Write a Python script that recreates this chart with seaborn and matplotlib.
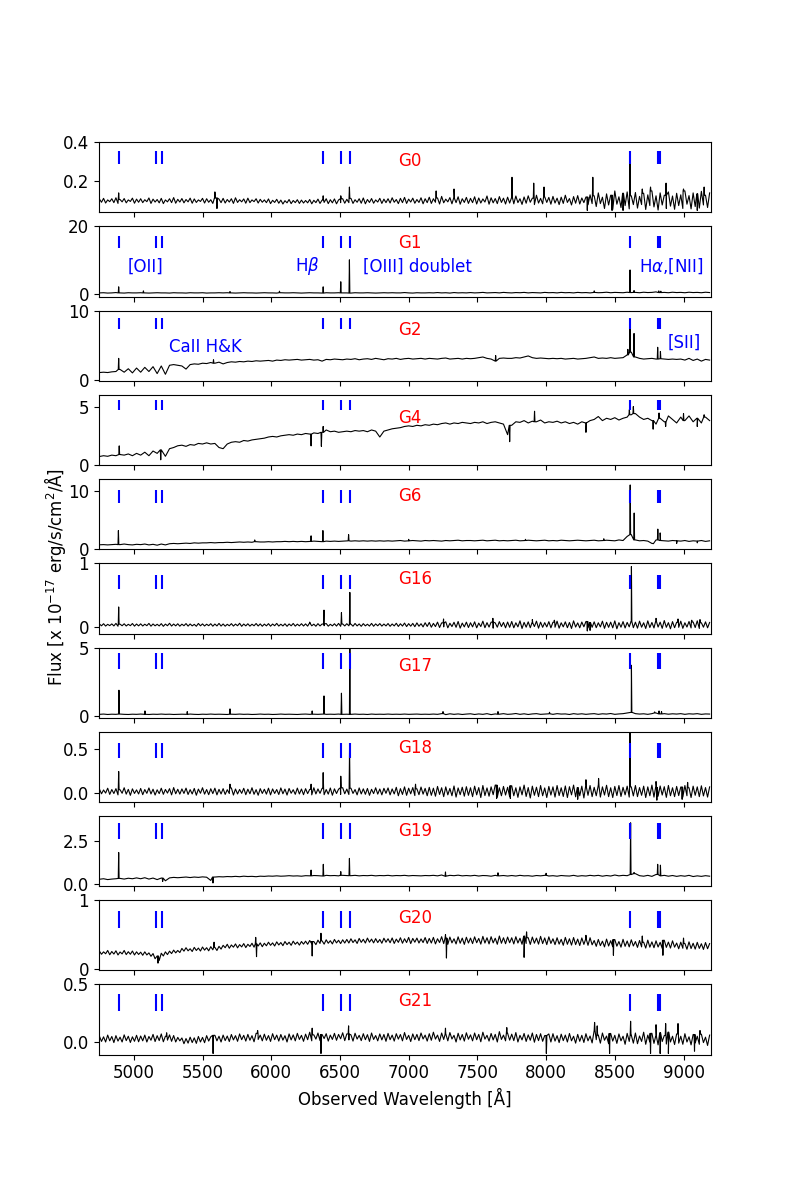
import numpy as np
import pandas as pd
import seaborn as sns
import matplotlib.pyplot as plt

plt.rcParams['font.size'] = 12

# sampled spectra: flux on a regular wavelength grid (4750 + 30*i Angstrom);
# the noisy ones also get the low side of the noise half way between (4765 + 30*i)
WAVE_START = 4750
WAVE_STEP = 30

GALAXIES = ['G0', 'G1', 'G2', 'G4', 'G6', 'G16', 'G17', 'G18', 'G19', 'G20', 'G21']

FLUX_G0 = [0.108, 0.112, 0.104, 0.110, 0.115, 0.106, 0.111, 0.104, 0.113, 0.108,
           0.110, 0.105, 0.114, 0.108, 0.106, 0.112, 0.104, 0.110, 0.116, 0.107,
           0.111, 0.106, 0.113, 0.109, 0.104, 0.112, 0.110, 0.105, 0.114, 0.108,
           0.112, 0.106, 0.110, 0.115, 0.105, 0.109, 0.113, 0.104, 0.110, 0.107,
           0.104, 0.109, 0.102, 0.107, 0.103, 0.100, 0.106, 0.101, 0.105, 0.103,
           0.101, 0.106, 0.102, 0.108, 0.103, 0.110, 0.105, 0.109, 0.104, 0.110,
           0.107, 0.112, 0.105, 0.110, 0.114, 0.106, 0.111, 0.104, 0.112, 0.108,
           0.110, 0.115, 0.106, 0.112, 0.117, 0.108, 0.113, 0.106, 0.115, 0.110,
           0.118, 0.110, 0.114, 0.122, 0.108, 0.116, 0.112, 0.120, 0.110, 0.117,
           0.112, 0.120, 0.114, 0.109, 0.124, 0.115, 0.111, 0.121, 0.113, 0.118,
           0.116, 0.124, 0.110, 0.119, 0.125, 0.113, 0.128, 0.112, 0.120, 0.117,
           0.122, 0.113, 0.118, 0.128, 0.111, 0.121, 0.126, 0.114, 0.119, 0.130,
           0.125, 0.140, 0.118, 0.135, 0.128, 0.150, 0.120, 0.138, 0.145, 0.125,
           0.142, 0.122, 0.138, 0.130, 0.150, 0.125, 0.140, 0.128, 0.145, 0.124,
           0.138, 0.130, 0.150, 0.126, 0.140, 0.135, 0.148, 0.128, 0.140]
MID_G0 = [0.092, 0.088, 0.095, 0.090, 0.086, 0.094, 0.089, 0.096, 0.087, 0.092,
          0.090, 0.095, 0.086, 0.093, 0.089, 0.085, 0.094, 0.090, 0.087, 0.093,
          0.089, 0.094, 0.087, 0.091, 0.096, 0.088, 0.092, 0.086, 0.093, 0.090,
          0.088, 0.093, 0.086, 0.091, 0.094, 0.087, 0.090, 0.095, 0.088, 0.092,
          0.090, 0.085, 0.091, 0.087, 0.083, 0.089, 0.085, 0.090, 0.086, 0.088,
          0.089, 0.084, 0.090, 0.086, 0.091, 0.085, 0.089, 0.084, 0.090, 0.087,
          0.090, 0.086, 0.092, 0.087, 0.084, 0.091, 0.087, 0.093, 0.086, 0.090,
          0.088, 0.092, 0.085, 0.090, 0.086, 0.093, 0.087, 0.091, 0.084, 0.090,
          0.086, 0.092, 0.083, 0.089, 0.094, 0.084, 0.090, 0.082, 0.091, 0.086,
          0.090, 0.083, 0.088, 0.093, 0.082, 0.089, 0.085, 0.091, 0.083, 0.088,
          0.084, 0.090, 0.081, 0.087, 0.092, 0.080, 0.088, 0.084, 0.091, 0.082,
          0.088, 0.080, 0.086, 0.091, 0.078, 0.087, 0.083, 0.090, 0.079, 0.085,
          0.070, 0.085, 0.060, 0.078, 0.055, 0.082, 0.065, 0.075, 0.058, 0.080,
          0.062, 0.080, 0.055, 0.075, 0.068, 0.052, 0.078, 0.060, 0.072, 0.056,
          0.075, 0.060, 0.082, 0.058, 0.070, 0.062, 0.078, 0.065]
FLUX_G1 = [0.3, 0.35, 0.25, 0.3, 0.4, 0.3, 0.25, 0.35, 0.3, 0.3,
           0.35, 0.3, 0.25, 0.3, 0.35, 0.3, 0.3, 0.25, 0.35, 0.3,
           0.3, 0.25, 0.35, 0.3, 0.3, 0.35, 0.25, 0.3, 0.3, 0.35,
           0.3, 0.35, 0.3, 0.25, 0.3, 0.35, 0.3, 0.3, 0.25, 0.3,
           0.35, 0.3, 0.3, 0.25, 0.35, 0.3, 0.3, 0.35, 0.3, 0.25,
           0.3, 0.35, 0.3, 0.3, 0.25, 0.35, 0.3, 0.3, 0.35, 0.3,
           0.3, 0.25, 0.35, 0.3, 0.3, 0.35, 0.3, 0.25, 0.3, 0.35,
           0.3, 0.35, 0.3, 0.3, 0.4, 0.3, 0.25, 0.35, 0.3, 0.3,
           0.35, 0.3, 0.4, 0.3, 0.35, 0.25, 0.4, 0.3, 0.35, 0.3,
           0.4, 0.3, 0.35, 0.45, 0.3, 0.35, 0.4, 0.3, 0.45, 0.35,
           0.3, 0.4, 0.35, 0.45, 0.3, 0.4, 0.35, 0.3, 0.45, 0.35,
           0.4, 0.3, 0.45, 0.35, 0.4, 0.3, 0.45, 0.35, 0.4, 0.3,
           0.45, 0.35, 0.4, 0.5, 0.35, 0.45, 0.4, 0.35, 0.5, 0.4,
           0.45, 0.35, 0.5, 0.4, 0.45, 0.6, 0.4, 0.45, 0.35, 0.5,
           0.4, 0.45, 0.35, 0.5, 0.4, 0.45, 0.35, 0.5, 0.4]
FLUX_G2 = [1.05, 1.1, 1.05, 1.15, 1.2, 1.5, 1.1, 1.6, 1.0, 1.7,
           1.1, 1.8, 1.2, 1.9, 0.9, 2.0, 0.8, 2.1, 2.2, 2.1,
           2.0, 1.55, 2.2, 2.3, 2.25, 2.4, 2.35, 2.5, 2.4, 2.55,
           2.3, 2.5, 2.6, 2.55, 2.65, 2.6, 2.7, 2.65, 2.75, 2.7,
           2.75, 2.8, 2.7, 2.85, 2.8, 2.9, 2.85, 2.9, 2.95, 2.85,
           2.9, 2.95, 2.85, 2.9, 2.7, 2.95, 2.9, 3.0, 2.95, 2.9,
           3.0, 2.95, 3.05, 2.9, 3.0, 3.05, 2.95, 3.1, 3.0, 2.9,
           3.05, 3.0, 3.1, 2.95, 3.05, 3.1, 3.0, 3.05, 3.1, 3.0,
           3.1, 3.05, 3.0, 3.1, 3.15, 3.0, 3.05, 3.1, 3.0, 3.1,
           3.05, 3.1, 3.2, 3.3, 3.1, 3.0, 2.7, 3.1, 3.15, 3.1,
           3.1, 3.2, 3.15, 3.3, 3.45, 3.2, 3.1, 3.15, 3.1, 3.05,
           3.1, 3.05, 3.1, 3.0, 3.05, 3.1, 3.0, 3.05, 3.1, 3.2,
           3.3, 3.1, 3.15, 3.1, 3.2, 3.1, 3.15, 3.2, 3.6, 4.0,
           3.3, 3.1, 3.0, 3.05, 3.1, 3.0, 3.05, 3.0, 2.95, 3.0,
           2.95, 3.0, 2.85, 3.1, 2.8, 3.0, 2.7, 2.95, 2.85]
FLUX_G4 = [0.73, 0.8, 0.75, 0.85, 0.8, 0.9, 0.85, 0.95, 0.8, 1.0,
           0.85, 1.1, 0.8, 1.2, 1.0, 1.3, 0.75, 1.4, 1.5, 1.65,
           1.7, 1.6, 1.75, 1.7, 1.85, 1.8, 1.9, 1.8, 1.85, 1.5,
           1.4, 1.8, 1.95, 2.0, 1.95, 2.1, 2.05, 2.15, 2.2, 2.25,
           2.3, 2.4, 2.45, 2.4, 2.5, 2.55, 2.6, 2.55, 2.65, 2.6,
           2.7, 2.65, 2.75, 2.7, 2.8, 3.0, 2.85, 2.9, 2.8, 2.85,
           2.9, 2.85, 2.95, 2.9, 2.95, 2.85, 3.0, 2.9, 2.4, 2.9,
           3.0, 3.1, 3.15, 3.2, 3.3, 3.35, 3.3, 3.4, 3.35, 3.45,
           3.4, 3.5, 3.45, 3.55, 3.6, 3.5, 3.6, 3.55, 3.65, 3.6,
           3.55, 3.65, 3.6, 3.7, 3.55, 3.65, 3.7, 3.6, 3.5, 2.6,
           3.4, 3.7, 3.65, 3.8, 3.6, 3.75, 3.7, 3.85, 3.6, 3.7,
           3.65, 3.75, 3.6, 3.7, 3.55, 3.65, 3.5, 3.7, 3.6, 3.8,
           3.9, 4.15, 3.8, 4.0, 3.9, 4.05, 3.85, 4.0, 4.1, 4.3,
           4.4, 4.1, 3.9, 4.0, 3.8, 3.5, 4.0, 3.7, 4.2, 3.9,
           3.6, 4.1, 3.8, 4.2, 3.7, 4.0, 3.6, 4.1, 3.8]
FLUX_G6 = [0.77, 0.8, 0.75, 0.8, 0.85, 0.8, 0.9, 0.8, 0.75, 0.85,
           0.8, 0.9, 0.75, 0.85, 0.7, 0.9, 0.75, 0.95, 1.0, 0.95,
           1.0, 1.05, 1.0, 1.1, 1.05, 1.1, 1.1, 1.15, 1.1, 1.15,
           1.15, 1.2, 1.15, 1.2, 1.25, 1.2, 1.25, 1.2, 1.3, 1.25,
           1.25, 1.3, 1.25, 1.3, 1.3, 1.35, 1.3, 1.35, 1.3, 1.35,
           1.3, 1.35, 1.4, 1.35, 1.3, 1.4, 1.35, 1.4, 1.35, 1.4,
           1.45, 1.4, 1.45, 1.4, 1.45, 1.4, 1.45, 1.4, 1.45, 1.4,
           1.45, 1.4, 1.45, 1.5, 1.4, 1.45, 1.5, 1.45, 1.4, 1.5,
           1.45, 1.5, 1.45, 1.4, 1.5, 1.45, 1.5, 1.55, 1.45, 1.5,
           1.5, 1.45, 1.5, 1.55, 1.45, 1.5, 1.55, 1.45, 1.5, 1.45,
           1.5, 1.55, 1.45, 1.5, 1.55, 1.5, 1.45, 1.5, 1.55, 1.45,
           1.5, 1.45, 1.55, 1.5, 1.45, 1.5, 1.55, 1.5, 1.45, 1.5,
           1.55, 1.45, 1.5, 1.55, 1.5, 1.45, 1.6, 1.5, 2.2, 2.5,
           1.6, 1.45, 1.5, 1.4, 1.0, 1.6, 1.5, 1.45, 1.4, 1.5,
           1.45, 1.4, 1.5, 1.35, 1.45, 1.4, 1.5, 1.35, 1.45]
FLUX_G16 = [0.04, 0.045, 0.035, 0.042, 0.05, 0.038, 0.044, 0.036, 0.048, 0.04,
            0.043, 0.037, 0.05, 0.041, 0.036, 0.046, 0.039, 0.052, 0.04, 0.044,
            0.038, 0.047, 0.041, 0.035, 0.049, 0.042, 0.037, 0.045, 0.04, 0.05,
            0.041, 0.036, 0.046, 0.039, 0.052, 0.04, 0.044, 0.037, 0.048, 0.042,
            0.039, 0.046, 0.04, 0.05, 0.037, 0.044, 0.041, 0.049, 0.038, 0.045,
            0.042, 0.05, 0.038, 0.046, 0.04, 0.048, 0.036, 0.044, 0.05, 0.041,
            0.045, 0.038, 0.049, 0.041, 0.046, 0.037, 0.05, 0.042, 0.047, 0.04,
            0.048, 0.041, 0.052, 0.044, 0.055, 0.046, 0.05, 0.058, 0.045, 0.06,
            0.065, 0.05, 0.07, 0.058, 0.075, 0.052, 0.068, 0.08, 0.055, 0.07,
            0.06, 0.075, 0.055, 0.085, 0.062, 0.07, 0.058, 0.078, 0.065, 0.072,
            0.08, 0.06, 0.09, 0.066, 0.075, 0.058, 0.085, 0.07, 0.062, 0.078,
            0.068, 0.085, 0.06, 0.075, 0.065, 0.09, 0.058, 0.072, 0.08, 0.064,
            0.075, 0.06, 0.085, 0.068, 0.07, 0.09, 0.062, 0.078, 0.066, 0.08,
            0.07, 0.085, 0.06, 0.09, 0.065, 0.08, 0.07, 0.095, 0.062, 0.078,
            0.068, 0.085, 0.06, 0.08, 0.072, 0.09, 0.06, 0.075, 0.065]
MID_G16 = [0.012, 0.008, 0.015, 0.01, 0.005, 0.013, 0.009, 0.014, 0.007, 0.011,
           0.009, 0.014, 0.006, 0.012, 0.01, 0.004, 0.013, 0.008, 0.011, 0.006,
           0.013, 0.007, 0.011, 0.005, 0.012, 0.009, 0.014, 0.006, 0.01, 0.008,
           0.006, 0.012, 0.008, 0.013, 0.004, 0.011, 0.007, 0.012, 0.009, 0.005,
           0.011, 0.006, 0.013, 0.008, 0.01, 0.004, 0.012, 0.007, 0.011, 0.009,
           0.007, 0.012, 0.005, 0.01, 0.013, 0.006, 0.011, 0.008, 0.004, 0.01,
           0.012, 0.006, 0.01, 0.004, 0.011, 0.008, 0.005, 0.012, 0.007, 0.01,
           0.004, 0.01, 0.002, 0.008, 0.0, 0.006, -0.002, 0.005, -0.005, 0.002,
           -0.01, 0.0, -0.015, -0.005, -0.02, 0.0, -0.012, -0.025, -0.005, -0.015,
           -0.005, -0.02, 0.0, -0.018, -0.008, -0.025, -0.01, 0.0, -0.02, -0.012,
           -0.02, -0.005, -0.03, -0.01, -0.018, 0.0, -0.025, -0.012, -0.006, -0.02,
           -0.01, -0.025, -0.005, -0.018, -0.03, -0.008, -0.02, -0.004, -0.022, -0.012,
           -0.018, -0.006, -0.028, -0.012, -0.02, -0.035, -0.01, -0.022, -0.005, -0.018,
           -0.025, -0.01, -0.03, -0.015, -0.022, -0.008, -0.028, -0.012, -0.035, -0.018,
           -0.012, -0.028, -0.008, -0.022, -0.015, -0.03, -0.01, -0.02]
FLUX_G17 = [0.1, 0.12, 0.09, 0.11, 0.1, 0.12, 0.1, 0.09, 0.11, 0.1,
            0.12, 0.1, 0.09, 0.11, 0.1, 0.12, 0.1, 0.11, 0.09, 0.1,
            0.11, 0.1, 0.12, 0.1, 0.09, 0.11, 0.1, 0.12, 0.1, 0.11,
            0.1, 0.09, 0.11, 0.1, 0.12, 0.1, 0.11, 0.09, 0.1, 0.12,
            0.1, 0.11, 0.09, 0.1, 0.12, 0.1, 0.11, 0.1, 0.09, 0.11,
            0.12, 0.1, 0.11, 0.1, 0.12, 0.1, 0.11, 0.1, 0.12, 0.1,
            0.11, 0.1, 0.12, 0.1, 0.11, 0.09, 0.12, 0.1, 0.11, 0.1,
            0.12, 0.1, 0.11, 0.1, 0.12, 0.1, 0.11, 0.12, 0.1, 0.11,
            0.1, 0.12, 0.1, 0.15, 0.08, 0.14, 0.1, 0.13, 0.09, 0.12,
            0.14, 0.09, 0.13, 0.1, 0.15, 0.08, 0.13, 0.11, 0.15, 0.1,
            0.12, 0.16, 0.1, 0.14, 0.09, 0.13, 0.15, 0.1, 0.12, 0.14,
            0.1, 0.15, 0.12, 0.13, 0.09, 0.15, 0.11, 0.14, 0.1, 0.13,
            0.15, 0.1, 0.14, 0.12, 0.16, 0.1, 0.13, 0.15, 0.2, 0.25,
            0.15, 0.12, 0.14, 0.1, 0.15, 0.2, 0.13, 0.15, 0.11, 0.14,
            0.12, 0.15, 0.1, 0.14, 0.12, 0.15, 0.1, 0.13, 0.12]
FLUX_G18 = [0.045, 0.035, 0.055, 0.04, 0.05, 0.038, 0.06, 0.042, 0.048, 0.036,
            0.052, 0.04, 0.058, 0.044, 0.037, 0.055, 0.041, 0.05, 0.062, 0.043,
            0.047, 0.056, 0.039, 0.052, 0.045, 0.06, 0.04, 0.049, 0.055, 0.042,
            0.05, 0.038, 0.058, 0.046, 0.041, 0.054, 0.044, 0.06, 0.039, 0.05,
            0.043, 0.055, 0.047, 0.04, 0.058, 0.045, 0.052, 0.038, 0.056, 0.046,
            0.05, 0.042, 0.06, 0.047, 0.053, 0.04, 0.057, 0.048, 0.044, 0.06,
            0.045, 0.055, 0.04, 0.058, 0.048, 0.052, 0.043, 0.06, 0.046, 0.054,
            0.058, 0.047, 0.065, 0.05, 0.07, 0.055, 0.062, 0.048, 0.068, 0.053,
            0.065, 0.055, 0.075, 0.06, 0.07, 0.052, 0.08, 0.058, 0.066, 0.072,
            0.06, 0.078, 0.062, 0.085, 0.058, 0.07, 0.09, 0.06, 0.075, 0.065,
            0.082, 0.06, 0.07, 0.09, 0.062, 0.078, 0.066, 0.085, 0.058, 0.075,
            0.07, 0.085, 0.06, 0.08, 0.072, 0.09, 0.062, 0.078, 0.068, 0.085,
            0.065, 0.08, 0.07, 0.088, 0.06, 0.075, 0.085, 0.065, 0.078, 0.07,
            0.085, 0.062, 0.078, 0.07, 0.09, 0.064, 0.08, 0.072, 0.086, 0.06,
            0.075, 0.068, 0.085, 0.06, 0.078, 0.07, 0.082, 0.062, 0.07]
MID_G18 = [-0.008, 0.0, -0.015, -0.005, -0.02, -0.002, -0.012, -0.025, -0.004, -0.01,
           -0.018, -0.003, -0.01, -0.022, -0.006, -0.014, 0.0, -0.02, -0.008, -0.012,
           -0.004, -0.016, -0.01, -0.024, -0.002, -0.012, -0.018, -0.006, -0.02, -0.01,
           -0.015, -0.005, -0.022, -0.01, -0.003, -0.018, -0.008, -0.014, -0.024, -0.004,
           -0.012, -0.02, -0.004, -0.016, -0.008, -0.022, -0.002, -0.014, -0.01, -0.018,
           -0.006, -0.02, -0.01, -0.003, -0.018, -0.012, -0.024, -0.005, -0.015, -0.008,
           -0.016, -0.004, -0.02, -0.01, -0.014, -0.025, -0.006, -0.012, -0.02, -0.003,
           -0.02, -0.01, -0.03, -0.015, -0.025, -0.008, -0.028, -0.018, -0.012, -0.03,
           -0.025, -0.035, -0.015, -0.04, -0.02, -0.03, -0.045, -0.018, -0.035, -0.025,
           -0.04, -0.02, -0.05, -0.028, -0.035, -0.018, -0.045, -0.03, -0.022, -0.04,
           -0.03, -0.048, -0.02, -0.038, -0.055, -0.025, -0.04, -0.03, -0.05, -0.022,
           -0.045, -0.028, -0.038, -0.05, -0.02, -0.042, -0.03, -0.055, -0.025, -0.04,
           -0.03, -0.045, -0.022, -0.04, -0.05, -0.028, -0.038, -0.02, -0.045, -0.032,
           -0.04, -0.025, -0.05, -0.03, -0.045, -0.035, -0.022, -0.048, -0.03, -0.04,
           -0.028, -0.045, -0.03, -0.05, -0.025, -0.04, -0.032, -0.045]
FLUX_G19 = [0.27, 0.3, 0.25, 0.28, 0.3, 0.32, 0.28, 0.33, 0.3, 0.35,
            0.3, 0.36, 0.28, 0.34, 0.25, 0.34, 0.18, 0.35, 0.38, 0.36,
            0.38, 0.4, 0.37, 0.4, 0.38, 0.41, 0.39, 0.2, 0.4, 0.42,
            0.41, 0.43, 0.42, 0.44, 0.42, 0.45, 0.43, 0.44, 0.42, 0.45,
            0.44, 0.46, 0.45, 0.47, 0.45, 0.46, 0.48, 0.46, 0.47, 0.45,
            0.48, 0.47, 0.49, 0.48, 0.46, 0.5, 0.48, 0.49, 0.47, 0.5,
            0.49, 0.48, 0.5, 0.47, 0.49, 0.48, 0.5, 0.47, 0.49, 0.48,
            0.5, 0.47, 0.49, 0.48, 0.5, 0.47, 0.49, 0.48, 0.47, 0.49,
            0.48, 0.5, 0.47, 0.52, 0.45, 0.5, 0.48, 0.51, 0.47, 0.49,
            0.47, 0.5, 0.46, 0.49, 0.48, 0.45, 0.5, 0.47, 0.49, 0.46,
            0.49, 0.46, 0.5, 0.47, 0.48, 0.45, 0.49, 0.47, 0.5, 0.46,
            0.48, 0.45, 0.49, 0.47, 0.46, 0.5, 0.45, 0.48, 0.46, 0.5,
            0.47, 0.5, 0.45, 0.49, 0.46, 0.52, 0.47, 0.5, 0.48, 0.55,
            0.6, 0.48, 0.45, 0.5, 0.44, 0.55, 0.47, 0.5, 0.45, 0.49,
            0.44, 0.48, 0.45, 0.5, 0.43, 0.47, 0.44, 0.48, 0.45]
FLUX_G20 = [0.26, 0.25, 0.27, 0.255, 0.265, 0.248, 0.27, 0.252, 0.262, 0.25,
            0.245, 0.25, 0.235, 0.225, 0.19, 0.23, 0.25, 0.26, 0.275, 0.27,
            0.3, 0.31, 0.295, 0.315, 0.305, 0.32, 0.31, 0.325, 0.315, 0.33,
            0.345, 0.36, 0.35, 0.365, 0.355, 0.37, 0.36, 0.375, 0.365, 0.38,
            0.375, 0.39, 0.38, 0.395, 0.385, 0.4, 0.39, 0.405, 0.392, 0.4,
            0.405, 0.415, 0.4, 0.42, 0.41, 0.425, 0.412, 0.43, 0.418, 0.425,
            0.43, 0.44, 0.425, 0.445, 0.432, 0.45, 0.435, 0.442, 0.43, 0.448,
            0.44, 0.452, 0.435, 0.455, 0.44, 0.46, 0.445, 0.45, 0.438, 0.458,
            0.445, 0.46, 0.44, 0.47, 0.45, 0.465, 0.44, 0.468, 0.45, 0.462,
            0.45, 0.468, 0.445, 0.475, 0.455, 0.47, 0.448, 0.48, 0.455, 0.465,
            0.455, 0.47, 0.448, 0.478, 0.455, 0.465, 0.45, 0.475, 0.452, 0.468,
            0.44, 0.455, 0.432, 0.46, 0.44, 0.458, 0.435, 0.452, 0.43, 0.455,
            0.415, 0.43, 0.405, 0.435, 0.412, 0.428, 0.4, 0.432, 0.408, 0.425,
            0.4, 0.415, 0.39, 0.42, 0.395, 0.41, 0.388, 0.418, 0.392, 0.41,
            0.378, 0.39, 0.372, 0.395, 0.375, 0.388, 0.368, 0.385, 0.37]
MID_G20 = [0.215, 0.222, 0.208, 0.218, 0.205, 0.22, 0.21, 0.215, 0.205, 0.212,
           0.2, 0.205, 0.185, 0.15, 0.125, 0.19, 0.21, 0.225, 0.235, 0.24,
           0.26, 0.265, 0.255, 0.27, 0.262, 0.275, 0.265, 0.28, 0.27, 0.29,
           0.31, 0.302, 0.318, 0.308, 0.322, 0.312, 0.328, 0.318, 0.335, 0.325,
           0.338, 0.345, 0.335, 0.35, 0.34, 0.355, 0.345, 0.36, 0.348, 0.362,
           0.36, 0.368, 0.355, 0.372, 0.362, 0.375, 0.365, 0.38, 0.37, 0.378,
           0.378, 0.385, 0.372, 0.388, 0.378, 0.39, 0.38, 0.385, 0.375, 0.39,
           0.382, 0.372, 0.388, 0.375, 0.385, 0.37, 0.39, 0.378, 0.385, 0.372,
           0.378, 0.365, 0.385, 0.37, 0.36, 0.38, 0.365, 0.375, 0.358, 0.378,
           0.37, 0.382, 0.362, 0.378, 0.365, 0.38, 0.36, 0.375, 0.368, 0.382,
           0.365, 0.378, 0.36, 0.372, 0.358, 0.375, 0.362, 0.37, 0.355, 0.372,
           0.355, 0.362, 0.345, 0.36, 0.348, 0.355, 0.342, 0.358, 0.345, 0.352,
           0.33, 0.34, 0.322, 0.335, 0.325, 0.332, 0.318, 0.33, 0.322, 0.335,
           0.315, 0.322, 0.305, 0.318, 0.31, 0.32, 0.3, 0.315, 0.305, 0.318,
           0.295, 0.302, 0.288, 0.298, 0.29, 0.3, 0.285, 0.295]
FLUX_G21 = [0.05, 0.045, 0.06, 0.048, 0.055, 0.042, 0.062, 0.05, 0.045, 0.058,
            0.052, 0.06, 0.048, 0.066, 0.055, 0.07, 0.05, 0.062, 0.056, 0.04,
            0.035, 0.03, 0.042, 0.036, 0.048, 0.04, 0.055, 0.045, 0.058, 0.05,
            0.06, 0.052, 0.065, 0.055, 0.07, 0.058, 0.066, 0.055, 0.075, 0.06,
            0.068, 0.056, 0.072, 0.06, 0.065, 0.055, 0.07, 0.062, 0.075, 0.058,
            0.068, 0.085, 0.062, 0.078, 0.065, 0.072, 0.06, 0.075, 0.066, 0.08,
            0.07, 0.062, 0.076, 0.058, 0.072, 0.064, 0.078, 0.056, 0.07, 0.065,
            0.075, 0.06, 0.072, 0.065, 0.082, 0.058, 0.07, 0.066, 0.078, 0.06,
            0.072, 0.085, 0.06, 0.078, 0.066, 0.082, 0.058, 0.076, 0.065, 0.08,
            0.062, 0.078, 0.066, 0.085, 0.058, 0.074, 0.066, 0.09, 0.06, 0.076,
            0.068, 0.082, 0.058, 0.074, 0.062, 0.078, 0.065, 0.072, 0.056, 0.07,
            0.072, 0.055, 0.068, 0.06, 0.074, 0.05, 0.066, 0.058, 0.072, 0.052,
            0.1, 0.06, 0.078, 0.052, 0.074, 0.058, 0.07, 0.05, 0.075, 0.06,
            0.078, 0.052, 0.085, 0.06, 0.075, 0.048, 0.08, 0.056, 0.085, 0.05,
            0.07, 0.05, 0.072, 0.045, 0.065, 0.05, 0.068, 0.042, 0.06]
MID_G21 = [0.005, 0.0, 0.01, -0.005, 0.008, 0.0, 0.012, -0.004, 0.006, 0.002,
           0.01, 0.0, 0.015, 0.004, 0.012, 0.002, 0.016, 0.006, 0.0, 0.01,
           -0.015, -0.01, -0.005, -0.012, 0.0, -0.006, 0.008, -0.002, 0.01, 0.0,
           0.012, 0.004, 0.018, 0.006, 0.02, 0.008, 0.015, 0.002, 0.022, 0.01,
           0.015, 0.005, 0.02, 0.008, 0.016, 0.0, 0.018, 0.01, 0.022, 0.006,
           0.02, 0.01, 0.025, 0.012, 0.03, 0.008, 0.022, 0.015, 0.028, 0.012,
           0.018, 0.008, 0.025, 0.012, 0.02, 0.005, 0.022, 0.01, 0.018, 0.006,
           0.02, 0.008, 0.025, 0.01, 0.022, 0.004, 0.02, 0.012, 0.026, 0.008,
           0.015, 0.025, 0.005, 0.022, 0.01, 0.026, 0.0, 0.018, 0.008, 0.024,
           0.01, 0.02, 0.002, 0.025, 0.008, 0.018, 0.0, 0.022, 0.01, 0.016,
           0.012, 0.0, 0.018, 0.005, 0.015, -0.002, 0.012, 0.006, 0.016, 0.0,
           0.008, -0.005, 0.012, 0.0, 0.01, -0.01, 0.006, -0.004, 0.01, -0.008,
           0.02, -0.01, 0.015, -0.015, 0.008, -0.012, 0.01, -0.02, 0.005, -0.01,
           -0.015, 0.005, -0.02, 0.0, -0.012, -0.025, 0.004, -0.018, 0.0, -0.022,
           -0.01, -0.02, 0.0, -0.025, -0.008, -0.02, -0.005, -0.03]

# narrow features (emission lines, sky residuals): (wavelength, flux at peak)
LINES_G0 = [(4890, 0.14), (5590, 0.145), (5605, 0.06), (6378, 0.125), (6506, 0.125),
            (6569, 0.17), (7200, 0.15), (7330, 0.16), (7752, 0.22), (7910, 0.19),
            (7985, 0.17), (8300, 0.05), (8340, 0.22), (8480, 0.05), (8560, 0.05),
            (8611, 0.30), (8700, 0.16), (8760, 0.17), (8873, 0.19), (9000, 0.16),
            (9100, 0.05), (9150, 0.17)]
LINES_G1 = [(4890, 2.1), (5070, 0.9), (5700, 0.7), (6060, 0.8), (6378, 2.1),
            (6506, 3.6), (6569, 10.1), (8350, 0.9), (8611, 7.1), (8640, 1.0),
            (8820, 0.9), (8835, 0.8)]
LINES_G2 = [(4890, 3.1), (5580, 2.9), (7633, 3.5), (8595, 4.4), (8611, 7.8),
            (8640, 6.7), (8812, 4.7), (8832, 4.1)]
LINES_G4 = [(4894, 1.64), (5196, 0.45), (6290, 1.64), (6365, 1.6), (6378, 3.3),
            (7735, 2.0), (7916, 4.6), (8290, 2.8), (8606, 4.73), (8635, 5.0),
            (8779, 3.07), (8822, 4.45), (8870, 3.3), (9000, 4.4), (9100, 3.3),
            (9150, 4.3)]
LINES_G6 = [(4888, 3.2), (5880, 1.6), (6290, 2.3), (6376, 3.2), (6563, 2.5),
            (7000, 1.7), (7850, 1.7), (8420, 1.8), (8612, 11.0), (8641, 6.2),
            (8779, 0.95), (8813, 3.45), (8830, 2.8), (8950, 1.0), (9100, 1.1)]
LINES_G16 = [(4890, 0.31), (6280, 0.07), (6384, 0.26), (6511, 0.22), (6572, 0.54),
             (7254, 0.12), (7613, 0.13), (7900, 0.11), (8060, 0.1), (8300, -0.07),
             (8320, -0.06), (8621, 0.95), (8800, 0.13), (8960, 0.12), (9060, 0.1),
             (9120, 0.11)]
LINES_G17 = [(4892, 1.87), (5081, 0.35), (5389, 0.3), (5700, 0.5), (6298, 0.35),
             (6384, 1.45), (6511, 1.65), (6572, 5.3), (7250, 0.3), (7650, 0.3),
             (8025, 0.25), (8621, 3.7), (8790, 0.28), (8822, 0.35), (8840, 0.3)]
LINES_G18 = [(4890, 0.243), (5700, 0.1), (6290, 0.1), (6378, 0.23), (6506, 0.19),
             (6570, 0.51), (7050, 0.1), (7640, -0.06), (7740, -0.06), (8230, -0.07),
             (8290, 0.15), (8382, 0.165), (8611, 0.676), (8800, 0.13), (8806, -0.08),
             (8990, -0.07), (9030, 0.12)]
LINES_G19 = [(4890, 1.85), (5210, 0.14), (5576, 0.05), (6290, 0.81), (6379, 1.15),
             (6506, 0.72), (6569, 1.5), (7268, 0.7), (7650, 0.65), (8000, 0.62),
             (8615, 3.6), (8640, 0.67), (8812, 1.15), (8832, 1.1)]
LINES_G20 = [(5176, 0.086), (5584, 0.39), (5887, 0.46), (5893, 0.18), (6298, 0.19),
             (6362, 0.52), (7268, 0.5), (7275, 0.16), (7840, 0.17), (7858, 0.54),
             (8290, 0.49), (8490, 0.2), (8700, 0.48), (8850, 0.2), (9000, 0.45)]
LINES_G21 = [(5239, 0.08), (5577, -0.1), (5901, 0.1), (6298, 0.12), (6362, -0.1),
             (6563, 0.14), (7268, 0.12), (7714, 0.125), (8002, -0.1), (8353, 0.17),
             (8372, 0.14), (8462, -0.1), (8615, 0.18), (8760, -0.1), (8800, 0.15),
             (8830, -0.1), (8870, 0.16), (8890, -0.1), (8960, 0.16), (9080, -0.08),
             (9120, 0.1)]

FLUXES = [FLUX_G0, FLUX_G1, FLUX_G2, FLUX_G4, FLUX_G6, FLUX_G16, FLUX_G17,
          FLUX_G18, FLUX_G19, FLUX_G20, FLUX_G21]
MIDS = [MID_G0, None, None, None, None, MID_G16, None, MID_G18, None, MID_G20, MID_G21]
LINES = [LINES_G0, LINES_G1, LINES_G2, LINES_G4, LINES_G6, LINES_G16, LINES_G17,
         LINES_G18, LINES_G19, LINES_G20, LINES_G21]

# rest-frame lines that get a marker: [OII], CaII H&K, Hb, [OIII], Ha, [SII]
REST_LINES = [3727, 3934, 3969, 4861, 4959, 5007, 6563, 6716, 6731]
REDSHIFT = 0.3122

Y_LIMITS = [(0.04, 0.4), (-0.8, 20), (-0.15, 10), (0, 6), (0, 12), (-0.11, 1),
            (-0.15, 5), (-0.1, 0.69), (-0.14, 4), (-0.02, 1), (-0.11, 0.5)]
Y_TICKS = [[0.2, 0.4], [0, 20], [0, 10], [0, 5], [0, 10], [0, 1], [0, 5],
           [0.0, 0.5], [0.0, 2.5], [0, 1], [0.0, 0.5]]
Y_TICKLABELS = [['0.2', '0.4'], ['0', '20'], ['0', '10'], ['0', '5'], ['0', '10'],
                ['0', '1'], ['0', '5'], ['0.0', '0.5'], ['0.0', '2.5'], ['0', '1'],
                ['0.0', '0.5']]

# marker bar extent and galaxy name height, in axes fraction
MARK_SPAN = [(0.69, 0.87), (0.69, 0.86), (0.74, 0.89), (0.78, 0.93), (0.66, 0.85),
             (0.63, 0.84), (0.70, 0.92), (0.63, 0.84), (0.67, 0.90), (0.60, 0.84),
             (0.62, 0.86)]
NAME_Y = [0.73, 0.77, 0.73, 0.67, 0.76, 0.77, 0.74, 0.77, 0.78, 0.74, 0.77]


def build_spectrum(flux, mids, lines):
    wave = WAVE_START + WAVE_STEP * np.arange(len(flux))
    parts = [pd.DataFrame({'wave': wave, 'flux': flux})]
    if mids is not None:
        mwave = WAVE_START + WAVE_STEP / 2 + WAVE_STEP * np.arange(len(mids))
        parts.append(pd.DataFrame({'wave': mwave, 'flux': mids}))
    spikes = []
    for lam, peak in lines:
        base = flux[int(round((lam - WAVE_START) / WAVE_STEP))]
        spikes += [(lam - 3, base), (lam, peak), (lam + 3, base)]
    parts.append(pd.DataFrame(spikes, columns=['wave', 'flux']))
    df = pd.concat(parts)
    return df.sort_values('wave', kind='stable').reset_index(drop=True)


fig, axs = plt.subplots(len(GALAXIES), 1, figsize=(7.9, 11.85), sharex=True)

for i, name in enumerate(GALAXIES):
    ax = axs[i]
    assert len(FLUXES[i]) == 149, name
    assert MIDS[i] is None or len(MIDS[i]) == 148, name
    spec = build_spectrum(FLUXES[i], MIDS[i], LINES[i])
    sns.lineplot(data=spec, x='wave', y='flux', ax=ax, color='black', lw=0.8,
                 estimator=None, sort=False)

    obs = [lam * (1 + REDSHIFT) for lam in REST_LINES]
    ax.vlines(obs, MARK_SPAN[i][0], MARK_SPAN[i][1], colors='blue', lw=1.5,
              transform=ax.get_xaxis_transform())
    ax.text(6920, NAME_Y[i], name, color='red', fontsize=12, va='center',
            transform=ax.get_xaxis_transform())

    ax.set_xlim(4745, 9200)
    ax.set_ylim(*Y_LIMITS[i])
    ax.set_yticks(Y_TICKS[i])
    ax.set_yticklabels(Y_TICKLABELS[i])
    ax.set_xticks(np.arange(5000, 9001, 500))
    ax.set_xlabel('')
    ax.set_ylabel('')

# line identifications
trans = axs[1].get_xaxis_transform()
axs[1].text(4952, 0.43, '[OII]', color='blue', va='center', transform=trans)
axs[1].text(6170, 0.43, r'H$\beta$', color='blue', va='center', transform=trans)
axs[1].text(6671, 0.43, '[OIII] doublet', color='blue', va='center', transform=trans)
axs[1].text(8678, 0.43, r'H$\alpha$,[NII]', color='blue', va='center', transform=trans)
trans = axs[2].get_xaxis_transform()
axs[2].text(5255, 0.48, 'CaII H&K', color='blue', va='center', transform=trans)
axs[2].text(8885, 0.54, '[SII]', color='blue', va='center', transform=trans)

axs[-1].set_xlabel('Observed Wavelength [Å]')
fig.text(0.07, 0.513, r'Flux [x $10^{-17}$ erg/s/cm$^2$/Å]', rotation=90,
         va='center', ha='center')

plt.savefig('out.png', dpi=100)
plt.close()
